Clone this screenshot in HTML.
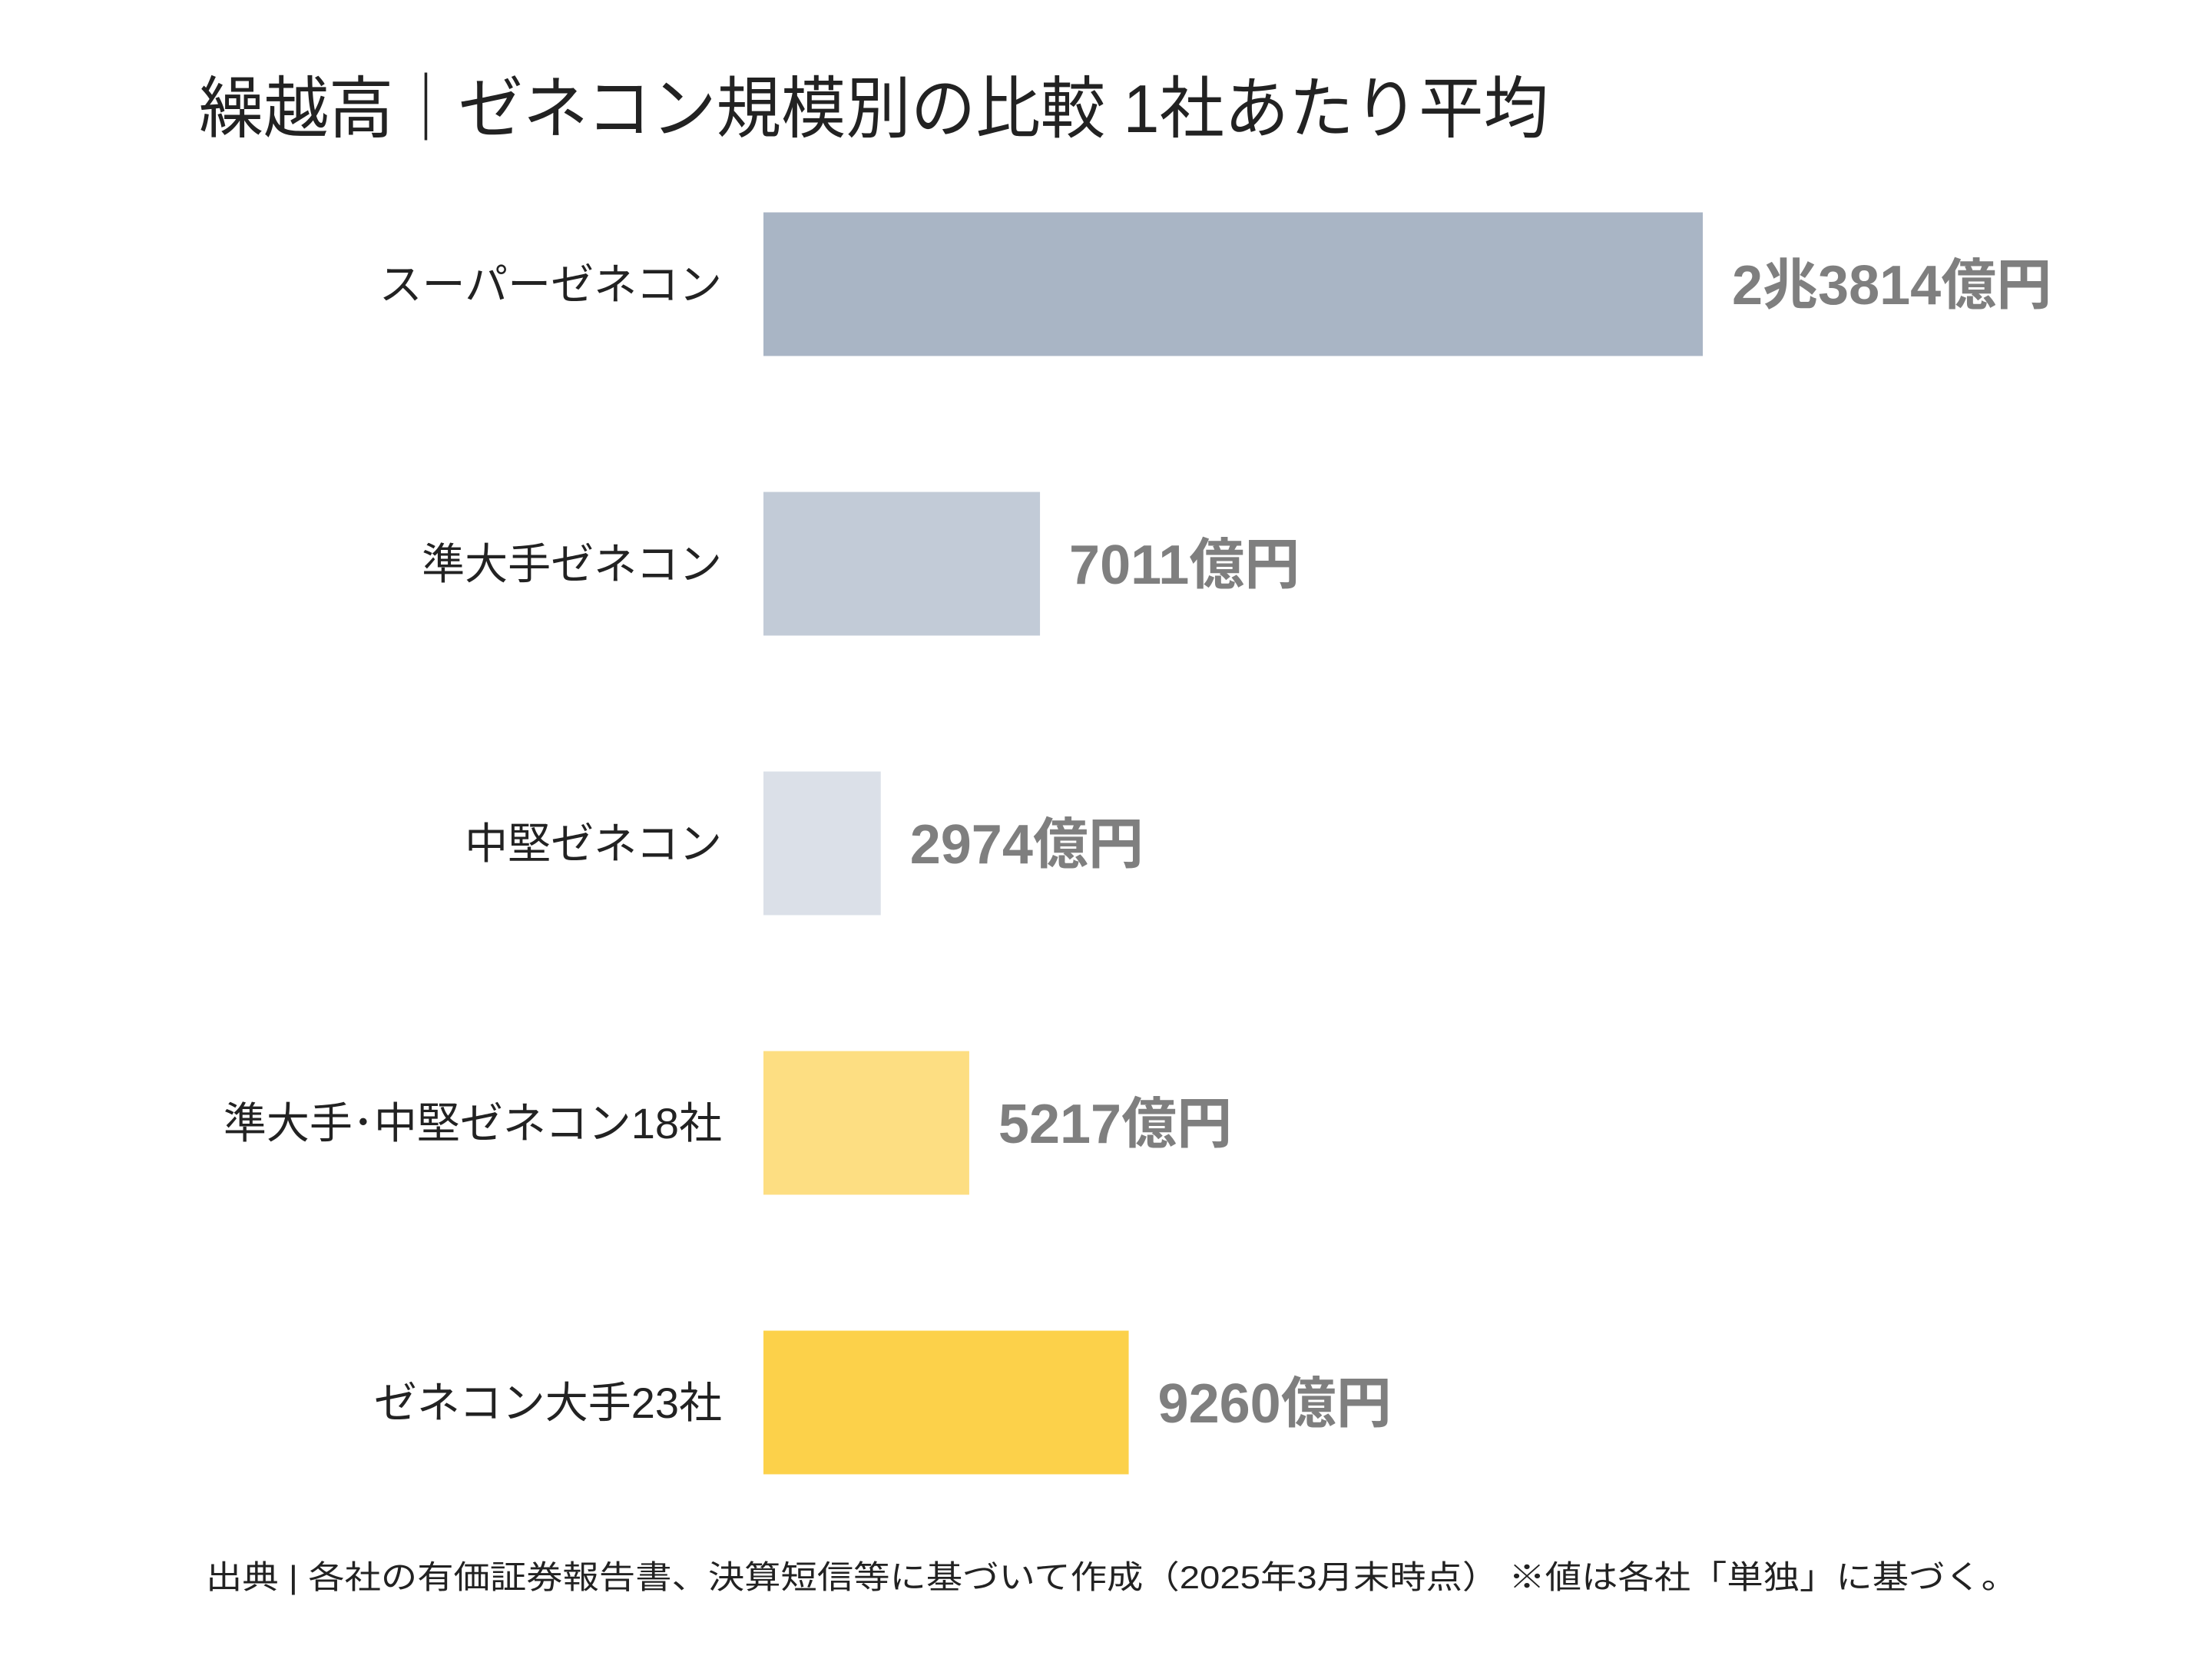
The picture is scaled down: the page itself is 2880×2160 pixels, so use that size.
<!DOCTYPE html>
<html><head><meta charset="utf-8"><style>
html,body{margin:0;padding:0;background:#fff;}
svg{display:block;}
</style></head><body>
<svg id="chart" width="2880" height="2160" viewBox="0 0 2880 2160" xmlns="http://www.w3.org/2000/svg" font-family="'Liberation Sans','Noto Sans CJK JP',sans-serif">
<rect width="2880" height="2160" fill="#fff"/>
<text x="259" y="172" font-size="88" fill="#222" textLength="1757" lengthAdjust="spacingAndGlyphs">繰越高｜ゼネコン規模別の比較 1社あたり平均</text>
<g id="bars"></g>
<text x="268" y="2068" font-size="42" fill="#222" textLength="2359" lengthAdjust="spacingAndGlyphs">出典 | 各社の有価証券報告書、決算短信等に基づいて作成（2025年3月末時点） ※値は各社「単独」に基づく。</text>
</svg>
<script>
const categories = ["スーパーゼネコン","準大手ゼネコン","中堅ゼネコン","準大手･中堅ゼネコン18社","ゼネコン大手23社"];
const values = [23814, 7011, 2974, 5217, 9260];
const valueLabels = ["2兆3814億円","7011億円","2974億円","5217億円","9260億円"];
const colors = ["#a9b5c5","#c2cbd7","#dbe0e8","#fdde82","#fcd14a"];

const x0 = 994, pxPerUnit = 1223 / 23814;
const firstCenter = 370, pitch = 364, barH = 187;
function xScale(v){ return x0 + v * pxPerUnit; }
function yCenter(i){ return firstCenter + i * pitch; }

const NS = "http://www.w3.org/2000/svg";
const g = document.getElementById("bars");
categories.forEach((c, i) => {
  const cy = yCenter(i);
  const r = document.createElementNS(NS, "rect");
  
  
  r.setAttribute("x", x0);
  r.setAttribute("y", cy - barH / 2);
  r.setAttribute("width", xScale(values[i]) - x0);
  r.setAttribute("height", barH);
  r.setAttribute("fill", colors[i]);
  g.appendChild(r);

  const t = document.createElementNS(NS, "text");
  
  
  t.setAttribute("x", 940);
  t.setAttribute("y", cy + 20);
  t.setAttribute("text-anchor", "end");
  t.setAttribute("font-size", "56");
  t.setAttribute("fill", "#222");
  t.textContent = c;
  g.appendChild(t);

  const v = document.createElementNS(NS, "text");
  
  
  v.setAttribute("x", xScale(values[i]) + 38);
  v.setAttribute("y", cy + 26);
  v.setAttribute("font-size", "72");
  v.setAttribute("font-weight", "bold");
  v.setAttribute("fill", "#7f7f7f");
  v.textContent = valueLabels[i];
  g.appendChild(v);
});
</script>
</body></html>
